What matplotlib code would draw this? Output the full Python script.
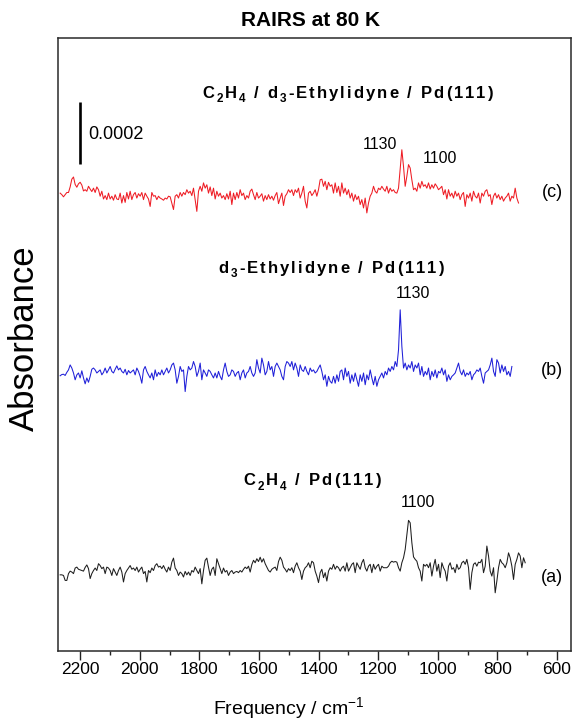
import numpy as np
import matplotlib
matplotlib.use("Agg")
import matplotlib.pyplot as plt
import matplotlib.transforms as mtransforms
from matplotlib.font_manager import FontProperties
from matplotlib.ticker import MultipleLocator

plt.rcParams['font.family'] = ['Liberation Sans', 'DejaVu Sans']
plt.rcParams['mathtext.fontset'] = 'custom'
plt.rcParams['mathtext.rm'] = 'Liberation Sans'
plt.rcParams['mathtext.bf'] = 'Liberation Sans:bold'
plt.rcParams['mathtext.it'] = 'Liberation Sans:italic'

# ---------------- data (absorbance changes in 1e-6 units) ----------------
# wavenumber sampling range of each spectrum (cm-1), uniform sampling
range_a = (2267.1, 706.7)
range_b = (2267.1, 751.4)
range_c = (2267.1, 729.1)

# (c) C2H4 / d3-ethylidyne / Pd(111)  -- red
spec_c = [5, 0, -7, 0, 7, 7, 25, 50, 57, 33, 24, 35, 40, 31, 12, 16, 11, 27, 18, 10,
          21, 7, 25, 16, -5, 11, -14, -3, -16, 5, -14, -5, -18, 0, -14, -16, 5, -27, -3, -25,
          7, -14, 11, -16, 0, 7, -11, 3, -5, 7, -16, 5, -5, -14, -38, 7, -5, -3, -16, -5,
          -11, -14, -18, -11, -14, -5, -7, -27, -48, -5, 0, -11, 7, -5, 7, 0, 16, 5, 11, -3,
          21, -16, -54, 11, 27, 11, 38, 21, 32, 5, 25, -3, 21, -14, 11, -5, 5, -11, -3, -16,
          3, -14, 11, -32, 5, -16, 7, -11, 16, -3, 5, -16, -3, -11, 11, 18, 0, -16, 7, -11,
          -5, 3, -21, -3, -16, 0, -14, -5, -18, -3, 7, -29, -11, 5, -35, -5, 3, 16, 7,
          16, -3, 16, 7, 21, -11, 5, 27, -21, -43, 5, 11, -3, 5, 16, -5, 16, 48, 50, 27,
          43, 16, 40, 27, 32, 5, 38, 7, 27, -5, 38, 5, 21, 0, 16, -11, 5, -21, 0, -16,
          -5, -32, -16, -43, -11, -59, -27, -5, 5, 27, 11, 5, 21, 16, 27, 18, 11, 27, 5, 21,
          11, 16, 7, 5, 21, 81, 145, 91, 27, 59, 97, 86, 48, 16, 21, 11, 38, 21, 43, 27,
          32, 21, 38, 18, 32, 21, 35, 27, 16, 21, 27, 0, 16, -14, 16, -5, 5, -11, 11, -5,
          5, -16, 0, 7, -38, 0, -11, 5, -21, 11, -5, -11, 5, -27, 5, -5, 11, 16, -5, 0,
          -32, -5, 5, -11, 0, -16, -5, -21, -11, -5, 5, -21, -5, -11, 21, -11, -27]

# (b) d3-ethylidyne / Pd(111)  -- blue
spec_b = [-14, -10, -9, -13, -3, 5, 21, 11, -5, -27, -11, -5, -21, 2, -21, -40, -21, -35, -16, 7,
          11, 5, -5, 0, 5, -11, -3, 11, -5, 5, 16, 0, -5, 7, 18, 5, 11, 0, -5, 7,
          -11, 3, -5, 0, 5, -11, 11, 0, -16, -38, 5, 16, 0, -11, -21, -5, -27, 5, -16, -3,
          -11, 5, -11, 0, 11, -5, 5, 21, 27, 5, -38, -16, 16, 0, 5, -65, -16, 16, 5, 11,
          32, 16, -16, 0, 27, -27, 5, -5, -16, 5, 0, -11, -21, -5, -21, 0, -16, -27, 5, 27,
          0, -16, -11, 5, 0, -16, -5, 0, -27, -5, 5, -21, -5, 0, 16, -5, -16, -5, 38, 11,
          -5, 43, 21, -11, 0, 32, 5, 16, -16, 16, 27, 16, 5, -16, -27, 16, 32, 27, 16,
          32, 5, 27, 11, -16, 21, 5, 0, 16, 0, -11, 11, 0, 5, -5, 0, 11, 21, 0, -27,
          -11, -48, -16, -32, -38, -16, -38, -11, -32, 0, 5, -27, 11, -16, 0, -38, -11, -32, -5, -27,
          -48, -11, -32, -5, -43, -11, -27, 5, -21, -43, -16, -48, -27, -16, -5, -21, 0, -11, 11, 0,
          16, 5, 32, 16, 70, 199, 81, 11, 27, 5, 21, 11, 32, 0, 21, 11, 27, -11, 16, -16,
          0, -11, 11, -27, 0, -16, 5, -21, 0, -5, 11, -11, 5, -32, -11, -27, -16, -11, -5, 11,
          27, 0, -11, 5, -16, -5, -11, 0, -27, -11, -5, 5, 0, 11, -16, -38, -5, 0, 5, 21,
          43, 0, -16, 38, 27, -5, 21, 0, 16, -11, 0, -16, 16]

# (a) C2H4 / Pd(111)  -- black
spec_a = [-9, -9, -11, -27, -27, -5, 3, 0, -5, 13, 16, 9, 7, 5, 3, 15, 23, 11, -21, -5,
          5, 13, 5, 27, 21, 11, 16, -5, 16, 13, 5, -11, 11, 0, -11, 5, 16, 0, -32, -5,
          5, 13, 21, 9, 13, 5, 16, 0, 9, 16, -5, 2, -32, 5, -2, 13, 5, 21, 27, 16,
          19, 11, 21, 9, 0, 16, 5, 32, 45, 13, 5, -11, 0, -5, -16, 2, -9, 0, -11, 5,
          0, 16, 5, -5, 11, -38, 5, 38, 45, 16, -11, 9, 16, -11, 43, 27, 11, -5, 13, 0,
          5, -11, 0, 5, -5, 0, 2, -2, 5, 0, 9, 16, 11, 19, 0, 24, 38, 30, 43, 34,
          48, 32, 43, 27, 16, 5, 0, 9, 13, 16, 5, 34, 48, 38, 16, 9, 0, 11, 5,
          14, -2, 19, 30, 14, 3, -24, 3, 14, 19, 30, 14, 35, 30, 3, -13, -34, -2, 9, -18,
          -2, -29, 3, 14, 9, 25, 9, 19, 14, 3, 14, 19, 3, 30, 3, 14, 25, 30, -2, 30,
          19, 9, 30, 41, 14, 3, 19, 25, -2, 25, 9, 19, 25, 3, 19, 14, 14, 14, 19, 30,
          35, 32, 34, 32, 14, 3, 30, 46, 73, 121, 167, 159, 95, 49, 41, 35, 14, 3, -29, 25,
          19, 25, 14, 30, -13, 19, 41, 3, 25, -18, 30, 14, 3, -29, 19, 30, 9, 14, -2, 25,
          9, 14, 30, 35, 25, 41, 14, -56, -2, 25, 30, 19, 32, 30, 41, -2, 19, 84, 52, 3,
          -13, 14, -67, -29, 14, 41, 30, 25, 14, 30, 62, 46, 19, -24, 25, 41, 62, 52, 14, 46, 30]

# vertical offsets of the three spectra (absorbance) and scale bar
offsets = {'a': 0.000255, 'b': 0.000903, 'c': 0.001474}
bar_x = 2200
bar_y = (0.001574, 0.001774)

# spectrum titles as tokens ('_x' = subscript)
title_c = ['C', '_2', 'H', '_4', ' ', '/', ' ', 'd', '_3', '-',
           'E', 't', 'h', 'y', 'l', 'i', 'd', 'y', 'n', 'e', ' ', '/', ' ',
           'P', 'd', '(', '1', '1', '1', ')']
title_b = ['d', '_3', '-', 'E', 't', 'h', 'y', 'l', 'i', 'd', 'y', 'n', 'e',
           ' ', '/', ' ', 'P', 'd', '(', '1', '1', '1', ')']
title_a = ['C', '_2', 'H', '_4', ' ', '/', ' ',
           'P', 'd', '(', '1', '1', '1', ')']

spectra = [
    (spec_a, range_a, offsets['a'], '#1e1e1e'),
    (spec_b, range_b, offsets['b'], '#1f1fd8'),
    (spec_c, range_c, offsets['c'], '#ee1c24'),
]

# ---------------- figure ----------------
W, H = 573, 722
fig = plt.figure(figsize=(W / 100, H / 100), dpi=100)
ax = fig.add_axes([57.5 / W, 1 - 651 / H, (571 - 57.5) / W, (651 - 38) / H])

for vals, (f0, f1), off, col in spectra:
    wn = np.linspace(f0, f1, len(vals))
    ax.plot(wn, off + np.asarray(vals) * 1e-6, color=col, lw=0.75)

# scale bar
ax.plot([bar_x, bar_x], bar_y, color='black', lw=1.9, solid_capstyle='butt')
ax.text(2172, 0.001668, '0.0002', fontsize=13, ha='left', va='center')

ax.set_xlim(2276, 553)
ax.set_ylim(0, 0.00198)
ax.set_yticks([])
ax.xaxis.set_major_locator(MultipleLocator(200))
ax.xaxis.set_minor_locator(MultipleLocator(100))
ax.tick_params(axis='x', which='major', direction='out', length=6.5, width=1.0,
               labelsize=12.5, pad=1.5, color='#222222')
ax.tick_params(axis='x', which='minor', direction='out', length=3.2, width=1.0, color='#222222')
for s in ax.spines.values():
    s.set_linewidth(1.1)
    s.set_color('#2a2a2a')

renderer = fig.canvas.get_renderer()
lab_fp = FontProperties(family=['Liberation Sans', 'DejaVu Sans'], weight='bold', size=12)
sub_fp = FontProperties(family=['Liberation Sans', 'DejaVu Sans'], weight='bold', size=8.5)
SUB_DROP = 4.5  # px


def token_widths(tokens):
    ws = []
    for t in tokens:
        if t == ' ':
            ws.append(0.278 * lab_fp.get_size_in_points() * fig.dpi / 72)
        elif t.startswith('_'):
            w, h, d = renderer.get_text_width_height_descent(t[1:], sub_fp, ismath=False)
            ws.append(w)
        else:
            w, h, d = renderer.get_text_width_height_descent(t, lab_fp, ismath=False)
            ws.append(w)
    return ws


def tracked(x, y, tokens, track):
    ws = token_widths(tokens)
    total = sum(ws) + track * (len(tokens) - 1)
    pos = -total / 2
    for t, w in zip(tokens, ws):
        if t != ' ':
            if t.startswith('_'):
                tr = mtransforms.offset_copy(ax.transData, fig=fig, x=pos, y=-SUB_DROP, units='dots')
                ax.text(x, y, t[1:], fontproperties=sub_fp, transform=tr, ha='left', va='baseline')
            else:
                tr = mtransforms.offset_copy(ax.transData, fig=fig, x=pos, y=0, units='dots')
                ax.text(x, y, t, fontproperties=lab_fp, transform=tr, ha='left', va='baseline')
        pos += w + track


# letter spacing chosen so the longest title spans ~291 px as in the reference
ws_c = token_widths(title_c)
track = (291 - sum(ws_c)) / (len(title_c) - 1)
tracked(1302, 0.001787, title_c, track)
tracked(1357, 0.001222, title_b, track)
tracked(1421, 0.000536, title_a, track)

pk_kw = dict(fontsize=11.5, ha='center', va='center')
ax.text(1195, 0.001636, '1130', **pk_kw)
ax.text(993, 0.001590, '1100', **pk_kw)
ax.text(1085, 0.001155, '1130', **pk_kw)
ax.text(1065, 0.000481, '1100', **pk_kw)

tr_kw = dict(fontsize=13, ha='center', va='center')
ax.text(616, 0.001481, '(c)', **tr_kw)
ax.text(616, 0.000906, '(b)', **tr_kw)
ax.text(616, 0.000239, '(a)', **tr_kw)

fig.text(310 / W, 1 - 21 / H, 'RAIRS at 80 K', fontsize=15,
         fontweight='bold', ha='center', va='center')
fig.text(24 / W, 1 - 338 / H, 'Absorbance', fontsize=25, rotation=90,
         ha='center', va='center')
fig.text(289 / W, 1 - 714 / H, 'Frequency / cm$^{-1}$', fontsize=14,
         ha='center', va='baseline')

fig.savefig('out.png', dpi=100)
